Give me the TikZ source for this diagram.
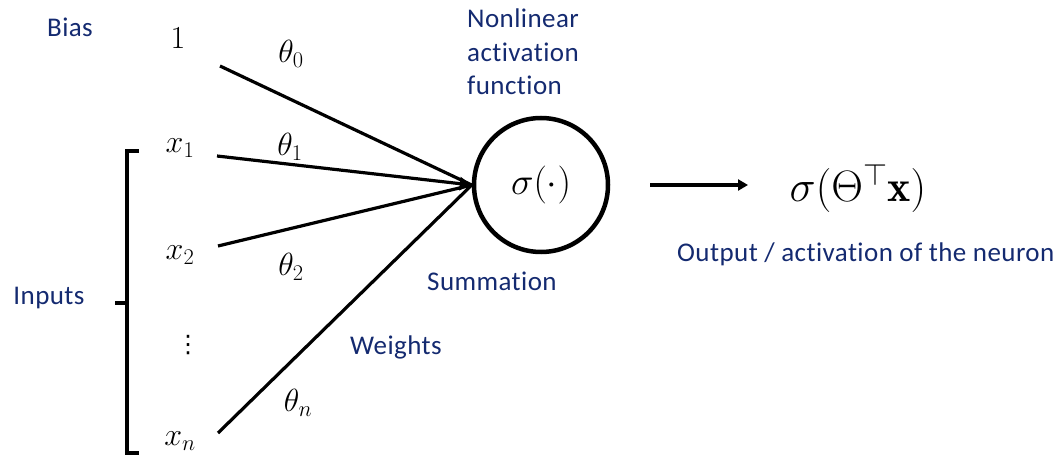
\RequirePackage{fix-cm}
\documentclass[tikz,border=0pt]{standalone}
\usepackage{fontspec}
\newfontfamily\calib[Ligatures=NoCommon,LetterSpace=1.6]{Carlito}
\newfontfamily\dejavu{DejaVu Sans}
\usetikzlibrary{arrows.meta}
\definecolor{navy}{RGB}{20,42,112}
\tikzset{
  lbl/.style={text=navy,font=\calib\fontsize{27}{33.5}\selectfont,inner sep=0pt},
  mth/.style={font=\fontsize{32}{38}\selectfont,inner sep=0pt},
  wire/.style={line width=3.2pt,line cap=butt},
}
\begin{document}
\begin{tikzpicture}[x=1pt,y=-1pt]
\useasboundingbox (0,0) rectangle (1061,457);
% labels
\node[lbl] (bias) at (70,27) {Bias};
\node[lbl] (inputs) at (49,298) {Inputs};
\node[lbl,align=left,anchor=west] (nonlin) at (467,52) {Nonlinear\\activation\\function};
\node[lbl,anchor=west] (summ) at (427,281) {Summation};
\node[lbl,anchor=west] (wts) at (350,347) {Weights};
\node[lbl,anchor=west] (outl) at (677,254) {Output / activation of the neuron};
% inputs
\node[mth] (one) at (178,38) {$1$};
\node[mth] (x1) at (180,148) {$x_1$};
\node[mth] (x2) at (180,255) {$x_2$};
\node[inner sep=0pt,font=\dejavu\fontsize{24}{28}\selectfont] (vd) at (188,345) {⋮};
\node[mth] (xn) at (180,441) {$x_n$};
% weights
\node[mth] (t0) at (291,54) {$\theta_0$};
\node[mth] (t1) at (290,147) {$\theta_1$};
\node[mth] (t2) at (291,267) {$\theta_2$};
\node[mth] (tn) at (298,403) {$\theta_n$};
% neuron
\node[circle,draw,line width=4.5pt,minimum size=134pt,inner sep=0pt,
      font=\fontsize{38}{44}\selectfont] (neuron) at (541,185) {$\sigma(\cdot)$};
\node[inner sep=0pt,font=\fontsize{44}{50}\selectfont] (out) at (858,188) {$\sigma(\Theta^{\top}\mathbf{x})$};
% wire start points
\coordinate (s0) at (220,66);
\coordinate (s1) at (217,156);
\coordinate (s2) at (218,246);
\coordinate (sn) at (218,433);
\draw[wire] (s0) -- (neuron.west);
\draw[wire] (s2) -- (neuron.west);
\draw[wire] (sn) -- (neuron.west);
\draw[wire,-{Triangle[length=12pt,width=13pt]}] (s1) -- (neuron.west);
% output arrow
\coordinate (oa) at (650,185);
\coordinate (ob) at (748,185);
\draw[line width=4pt,-{Triangle[length=10pt,width=11pt]}] (oa) -- (ob);
% bracket
\coordinate (bt) at (139,151);
\coordinate (bb) at (139,453);
\coordinate (bm) at (115,303);
\draw[line width=3.2pt] (bt) -- (127,151) -- (127,453) -- (bb);
\draw[line width=3.2pt] (bm) -- (127,303);
\end{tikzpicture}
\end{document}
